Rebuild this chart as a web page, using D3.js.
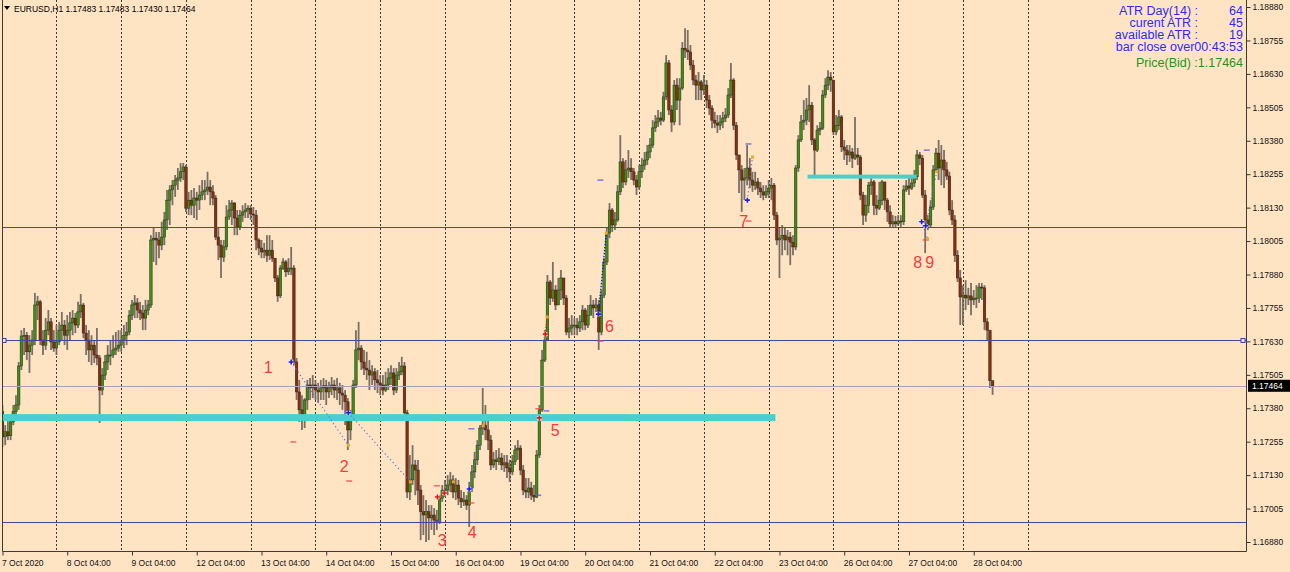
<!DOCTYPE html>
<html><head><meta charset="utf-8">
<script src="https://cdn.jsdelivr.net/npm/d3@7"></script>
<style>body{margin:0;background:#FFE4C4;}svg{display:block}</style>
</head><body><svg id="c" width="1290" height="572"></svg>
<script>
// ---------- DATA (EURUSD H1, 7 Oct 04:00 .. 28 Oct 11:00) ----------
const symbol = "EURUSD,H1";
const lastOHLC = [1.17483, 1.17483, 1.17430, 1.17464];
const firstOpen = 1.17367;
const closes = [
1.17273,1.17292,1.17277,1.17329,1.17367,1.17392,1.17538,1.17650,1.17653,1.17591,1.17616,1.17635,1.17766,1.17778,1.17635,1.17616,1.17672,1.17703,1.17628,1.17605,
1.17628,1.17672,1.17691,1.17653,1.17672,1.17699,1.17717,1.17691,1.17740,1.17766,1.17661,1.17635,1.17598,1.17616,1.17579,1.17568,1.17448,1.17504,1.17553,1.17579,1.17579,1.17598,1.17605,1.17616,
1.17635,1.17653,1.17665,1.17728,1.17766,1.17774,1.17747,1.17736,1.17717,1.17747,1.17766,1.18009,1.18016,1.18009,1.17990,1.18020,1.18084,1.18158,1.18196,1.18214,1.18233,1.18241,1.18264,1.18282,
1.18128,1.18158,1.18139,1.18166,1.18158,1.18177,1.18189,1.18196,1.18207,1.18189,1.18166,1.18020,1.17990,1.17945,1.17983,1.18095,1.18121,1.18147,1.18091,1.18058,1.18102,1.18114,1.18121,1.18128,
1.18106,1.18102,1.18009,1.17979,1.17964,1.17971,1.17952,1.17971,1.17941,1.17867,1.17800,1.17904,1.17927,1.17890,1.17904,1.17904,1.17553,1.17441,1.17374,1.17352,1.17411,1.17467,1.17456,1.17467,
1.17448,1.17441,1.17456,1.17464,1.17441,1.17456,1.17467,1.17448,1.17456,1.17437,1.17429,1.17404,1.17299,1.17344,1.17467,1.17598,1.17605,1.17553,1.17530,1.17523,1.17504,1.17516,1.17486,1.17475,
1.17467,1.17448,1.17467,1.17493,1.17512,1.17448,1.17504,1.17516,1.17538,1.17363,1.17067,1.17112,1.17168,1.17149,1.17074,1.16993,1.16981,1.16993,1.16970,1.16981,1.16962,1.16955,1.17044,1.17074,
1.17074,1.17093,1.17112,1.17067,1.17093,1.17044,1.17030,1.17037,1.17018,1.17082,1.17142,1.17187,1.17242,1.17306,1.17317,1.17299,1.17261,1.17168,1.17187,1.17180,1.17194,1.17168,1.17176,1.17157,
1.17142,1.17180,1.17224,1.17231,1.17149,1.17074,1.17067,1.17082,1.17055,1.17048,1.17205,1.17374,1.17560,1.17635,1.17852,1.17792,1.17822,1.17766,1.17822,1.17867,1.17792,1.17665,1.17680,1.17691,
1.17691,1.17680,1.17703,1.17747,1.17691,1.17728,1.17766,1.17755,1.17766,1.17665,1.17803,1.17927,1.18035,1.18121,1.18065,1.18084,1.18189,1.18301,1.18226,1.18271,1.18278,1.18264,1.18233,1.18207,
1.18264,1.18289,1.18308,1.18338,1.18364,1.18428,1.18450,1.18465,1.18457,1.18544,1.18671,1.18495,1.18450,1.18588,1.18532,1.18577,1.18726,1.18719,1.18712,1.18663,1.18607,1.18588,1.18600,1.18570,
1.18588,1.18532,1.18502,1.18457,1.18446,1.18438,1.18450,1.18465,1.18476,1.18551,1.18607,1.18438,1.18327,1.18271,1.18233,1.18241,1.18278,1.18233,1.18214,1.18226,1.18203,1.18189,1.18177,1.18189,
1.18203,1.18214,1.18102,1.18009,1.18016,1.18027,1.18009,1.18020,1.18001,1.17983,1.18278,1.18383,1.18450,1.18457,1.18495,1.18513,1.18383,1.18345,1.18420,1.18427,1.18551,1.18588,1.18618,1.18607,
1.18413,1.18438,1.18469,1.18357,1.18345,1.18327,1.18338,1.18315,1.18327,1.18319,1.18177,1.18102,1.18139,1.18214,1.18226,1.18139,1.18128,1.18158,1.18226,1.18158,1.18114,1.18069,1.18077,1.18069,
1.18080,1.18077,1.18196,1.18211,1.18203,1.18222,1.18245,1.18327,1.18315,1.18177,1.18084,1.18065,1.18132,1.18271,1.18334,1.18278,1.18308,1.18271,1.18248,1.18121,1.18084,1.17952,1.17867,1.17796,
1.17803,1.17792,1.17800,1.17785,1.17792,1.17792,1.17833,1.17830,1.17703,1.17672,1.17483,1.17464];
const highs = [
1.17392,1.17317,1.17336,1.17344,1.17392,1.17429,1.17553,1.17672,1.17680,1.17665,1.17653,1.17672,1.17811,1.17800,1.17785,1.17672,1.17717,1.17747,1.17717,1.17672,
1.17691,1.17703,1.17740,1.17710,1.17728,1.17740,1.17747,1.17736,1.17778,1.17807,1.17774,1.17691,1.17672,1.17653,1.17635,1.17680,1.17579,1.17530,1.17579,1.17616,1.17635,1.17653,1.17665,1.17672,
1.17672,1.17691,1.17703,1.17747,1.17785,1.17803,1.17792,1.17778,1.17766,1.17785,1.17785,1.18027,1.18054,1.18039,1.18039,1.18077,1.18114,1.18196,1.18214,1.18233,1.18252,1.18278,1.18297,1.18297,
1.18289,1.18189,1.18196,1.18203,1.18189,1.18214,1.18233,1.18233,1.18264,1.18233,1.18214,1.18177,1.18054,1.18009,1.18009,1.18139,1.18158,1.18158,1.18151,1.18121,1.18121,1.18139,1.18147,1.18139,
1.18139,1.18132,1.18121,1.18016,1.18009,1.17998,1.18027,1.18027,1.18009,1.17941,1.17878,1.17915,1.17941,1.17934,1.17941,1.17983,1.17915,1.17568,1.17486,1.17429,1.17418,1.17486,1.17493,1.17504,
1.17486,1.17475,1.17486,1.17493,1.17486,1.17479,1.17497,1.17486,1.17493,1.17475,1.17467,1.17448,1.17418,1.17374,1.17486,1.17672,1.17703,1.17616,1.17598,1.17591,1.17560,1.17541,1.17530,1.17523,
1.17504,1.17504,1.17516,1.17530,1.17541,1.17530,1.17530,1.17553,1.17572,1.17553,1.17374,1.17205,1.17242,1.17187,1.17187,1.17093,1.17055,1.17037,1.17018,1.17018,1.17007,1.17000,1.17055,1.17093,
1.17112,1.17130,1.17142,1.17130,1.17119,1.17112,1.17074,1.17067,1.17055,1.17105,1.17168,1.17217,1.17261,1.17317,1.17456,1.17392,1.17336,1.17280,1.17217,1.17224,1.17231,1.17213,1.17205,1.17205,
1.17187,1.17205,1.17242,1.17261,1.17242,1.17168,1.17119,1.17119,1.17105,1.17093,1.17224,1.17392,1.17598,1.17672,1.17878,1.17859,1.17927,1.17840,1.17867,1.17897,1.17867,1.17803,1.17717,1.17728,
1.17717,1.17717,1.17728,1.17766,1.17755,1.17766,1.17803,1.17785,1.17792,1.17785,1.17822,1.17941,1.18054,1.18147,1.18128,1.18114,1.18214,1.18401,1.18315,1.18308,1.18345,1.18315,1.18278,1.18252,
1.18289,1.18315,1.18338,1.18364,1.18390,1.18457,1.18476,1.18495,1.18488,1.18563,1.18700,1.18682,1.18513,1.18607,1.18614,1.18614,1.18749,1.18801,1.18794,1.18738,1.18682,1.18626,1.18637,1.18607,
1.18626,1.18607,1.18551,1.18513,1.18488,1.18476,1.18476,1.18488,1.18502,1.18577,1.18671,1.18614,1.18450,1.18327,1.18289,1.18278,1.18364,1.18315,1.18264,1.18264,1.18241,1.18226,1.18214,1.18214,
1.18233,1.18241,1.18222,1.18114,1.18054,1.18065,1.18054,1.18046,1.18039,1.18027,1.18289,1.18401,1.18476,1.18532,1.18540,1.18588,1.18525,1.18390,1.18438,1.18450,1.18570,1.18614,1.18644,1.18637,
1.18551,1.18476,1.18495,1.18476,1.18383,1.18364,1.18364,1.18353,1.18469,1.18353,1.18327,1.18189,1.18177,1.18226,1.18241,1.18233,1.18177,1.18226,1.18233,1.18222,1.18166,1.18139,1.18102,1.18099,
1.18102,1.18102,1.18214,1.18233,1.18241,1.18248,1.18271,1.18345,1.18338,1.18327,1.18196,1.18102,1.18158,1.18289,1.18353,1.18383,1.18364,1.18345,1.18301,1.18264,1.18158,1.18102,1.17971,1.17897,
1.17840,1.17859,1.17830,1.17848,1.17822,1.17840,1.17848,1.17848,1.17840,1.17717,1.17653,1.17483];
const lows = [
1.17235,1.17242,1.17261,1.17261,1.17317,1.17355,1.17374,1.17523,1.17579,1.17560,1.17512,1.17579,1.17616,1.17710,1.17616,1.17579,1.17598,1.17653,1.17598,1.17591,
1.17579,1.17616,1.17635,1.17616,1.17598,1.17635,1.17653,1.17661,1.17680,1.17717,1.17642,1.17579,1.17553,1.17541,1.17549,1.17541,1.17325,1.17429,1.17486,1.17523,1.17541,1.17568,1.17579,1.17591,
1.17591,1.17605,1.17616,1.17653,1.17710,1.17717,1.17717,1.17710,1.17672,1.17672,1.17728,1.17755,1.17927,1.17915,1.17941,1.17971,1.17990,1.18046,1.18065,1.18139,1.18170,1.18196,1.18226,1.18233,
1.18114,1.18102,1.18102,1.18091,1.18084,1.18121,1.18158,1.18158,1.18177,1.18139,1.18139,1.18009,1.17934,1.17867,1.17927,1.17971,1.18084,1.18065,1.18027,1.18027,1.18046,1.18077,1.18091,1.18091,
1.18084,1.18065,1.17971,1.17952,1.17941,1.17941,1.17927,1.17934,1.17927,1.17852,1.17778,1.17792,1.17897,1.17871,1.17878,1.17878,1.17541,1.17411,1.17329,1.17299,1.17306,1.17374,1.17411,1.17418,
1.17411,1.17400,1.17411,1.17411,1.17392,1.17418,1.17429,1.17418,1.17411,1.17392,1.17374,1.17317,1.17224,1.17261,1.17336,1.17456,1.17560,1.17523,1.17504,1.17486,1.17448,1.17467,1.17448,1.17437,
1.17429,1.17429,1.17441,1.17448,1.17467,1.17429,1.17437,1.17486,1.17504,1.17344,1.17044,1.17037,1.17093,1.17055,1.17018,1.16887,1.16906,1.16880,1.16887,1.16925,1.16906,1.16925,1.16947,1.17030,
1.17048,1.17055,1.17067,1.17044,1.17037,1.17018,1.17007,1.17015,1.17000,1.16936,1.17067,1.17119,1.17168,1.17224,1.17280,1.17261,1.17224,1.17149,1.17157,1.17149,1.17168,1.17149,1.17142,1.17119,
1.17105,1.17130,1.17168,1.17187,1.17130,1.17055,1.17044,1.17044,1.17037,1.17030,1.17044,1.17194,1.17367,1.17553,1.17635,1.17766,1.17778,1.17747,1.17766,1.17785,1.17766,1.17653,1.17642,1.17653,
1.17653,1.17653,1.17665,1.17672,1.17672,1.17680,1.17740,1.17717,1.17740,1.17598,1.17653,1.17792,1.17915,1.18016,1.18039,1.18046,1.18077,1.18177,1.18203,1.18214,1.18241,1.18233,1.18214,1.18177,
1.18196,1.18241,1.18271,1.18289,1.18315,1.18353,1.18413,1.18431,1.18438,1.18450,1.18532,1.18476,1.18413,1.18438,1.18495,1.18438,1.18570,1.18689,1.18682,1.18644,1.18588,1.18532,1.18532,1.18532,
1.18551,1.18502,1.18476,1.18427,1.18427,1.18409,1.18420,1.18427,1.18450,1.18465,1.18540,1.18420,1.18308,1.18185,1.18114,1.18158,1.18214,1.18203,1.18189,1.18196,1.18177,1.18166,1.18158,1.18166,
1.18166,1.18158,1.18084,1.17990,1.17867,1.17952,1.17971,1.17952,1.17915,1.17952,1.17971,1.18264,1.18375,1.18420,1.18438,1.18450,1.18364,1.18241,1.18338,1.18401,1.18420,1.18540,1.18570,1.18563,
1.18401,1.18401,1.18420,1.18338,1.18308,1.18289,1.18301,1.18278,1.18308,1.18289,1.18158,1.18065,1.18077,1.18110,1.18177,1.18102,1.18102,1.18121,1.18139,1.18121,1.18077,1.18054,1.18058,1.18054,
1.18062,1.18058,1.18065,1.18189,1.18177,1.18196,1.18207,1.18233,1.18289,1.18166,1.17960,1.18046,1.18054,1.18121,1.18264,1.18233,1.18214,1.18203,1.18233,1.18102,1.18065,1.17927,1.17852,1.17691,
1.17691,1.17747,1.17766,1.17728,1.17766,1.17755,1.17774,1.17785,1.17672,1.17635,1.17456,1.17430];

const priceTicks = [1.18880,1.18755,1.18630,1.18505,1.18380,1.18255,1.18130,1.18005,1.17880,1.17755,1.17630,1.17505,1.17380,1.17255,1.17130,1.17005,1.16880];
const dateLabels = ["7 Oct 2020","8 Oct 04:00","9 Oct 04:00","12 Oct 04:00","13 Oct 04:00","14 Oct 04:00","15 Oct 04:00","16 Oct 04:00","19 Oct 04:00","20 Oct 04:00","21 Oct 04:00","22 Oct 04:00","23 Oct 04:00","26 Oct 04:00","27 Oct 04:00","28 Oct 04:00"];
const dateLabelBars = [0,24,48,72,96,120,144,168,192,216,240,264,288,312,336,360];
const daySeparatorBars = [20,44,68,92,116,140,164,188,212,236,260,284,308,332,356,380];
const levelLines = [1.18058, 1.17635, 1.16955];
const bidPrice = 1.17464;
const zones = [{from:-1, to:286.5, price:1.17345, kind:"wide"}, {from:298.4, to:338.8, price:1.18246, kind:"narrow"}];
const waveLabels = [{t:"1",i:98.5,p:1.17534},{t:"2",i:126.7,p:1.17165},{t:"3",i:163,p:1.16887},{t:"4",i:174.1,p:1.16918},{t:"5",i:204.9,p:1.17299},{t:"6",i:225,p:1.17688},{t:"7",i:274.7,p:1.18080},{t:"8",i:339.2,p:1.17927},{t:"9",i:343.7,p:1.17927}];
const blueCrosses = [[107,1.17553],[128.2,1.17363],[173,1.17078],[220.9,1.17732],[276.1,1.18158],[340.7,1.18077],[342.2,1.18062]];
const redCrosses = [[161.2,1.17048],[163.8,1.17063],[199,1.17344],[201.2,1.17657]];
const orangeDots = [[128.2,1.17242],[151.2,1.17105],[167.1,1.17105],[178.2,1.17314],[199.7,1.17340],[201.9,1.17721],[223.8,1.18035],[278,1.18319],[342.9,1.18013],[346.3,1.18264]];
const blueLinks = [[107,1.17553,128.2,1.17242],[128.2,1.17363,151.2,1.17105],[173,1.17078,178.2,1.17314],[276.1,1.18158,278,1.18319],[342.2,1.18062,346.3,1.18264],[340.7,1.18077,342.9,1.18013]];
const navyLinks = [[220.9,1.17732,223.8,1.18035]];
const redLinks = [[201.2,1.17657,201.9,1.17721]];
const redDashes = [[107.8,1.17254],[128.5,1.17108],[173.8,1.17026],[198.6,1.17378],[221.6,1.17631],[276.5,1.18080],[342.2,1.18009],[161,1.17090]];
const blueDashes = [[173.8,1.17303],[201.6,1.17370],[198.6,1.17055],[161.5,1.16958],[221.6,1.18233],[276.5,1.18368],[342.6,1.18345]];
const infoRows = [["ATR Day(14) :","64"],["curent ATR :","45"],["available ATR :","19"]];
const barCloseText = "bar close over00:43:53";
const bidText = "Price(Bid) :1.17464";

// ---------- DRAW ----------
const svg = d3.select("#c");
const W = 1290, H = 572, L = 2, R = 1246, B = 551;
const x = d3.scaleLinear().domain([0, 367]).range([2.5, 992.6]);
const y = d3.scaleLinear().domain([1.16880, 1.18880]).range([542, 7]);
const FONT = "'Liberation Sans', Arial, sans-serif";

svg.append("rect").attr("width", W).attr("height", H).attr("fill", "#FFE4C4");
svg.append("defs").append("clipPath").attr("id","clip").append("rect").attr("x",L).attr("y",0).attr("width",R-L).attr("height",B);
const plot = svg.append("g").attr("clip-path","url(#clip)");

// day separators (dotted grid)
plot.append("g").selectAll("line").data(daySeparatorBars).join("line")
  .attr("x1", d=>Math.round(x(d))+0.5).attr("x2", d=>Math.round(x(d))+0.5).attr("y1",0).attr("y2",B)
  .attr("stroke","#3c3834").attr("stroke-width",1).attr("stroke-dasharray","2,2");

// candles
const bars = closes.map((c,i)=>({i, o: i===0 ? firstOpen : closes[i-1], c, h: highs[i], l: lows[i]}));
const cg = plot.append("g");
cg.append("g").selectAll("line").data(bars).join("line")
  .attr("x1", d=>x(d.i)).attr("x2", d=>x(d.i))
  .attr("y1", d=>y(Math.max(d.h,d.o,d.c))).attr("y2", d=>y(Math.min(d.l,d.o,d.c)))
  .attr("stroke","#6a6259").attr("stroke-opacity",0.9).attr("stroke-width",1.8);
cg.append("g").selectAll("rect").data(bars).join("rect")
  .attr("x", d=>x(d.i)-1.3).attr("width",2.6)
  .attr("y", d=>y(Math.max(d.o,d.c))).attr("height", d=>Math.max(1, Math.abs(y(d.o)-y(d.c))))
  .attr("fill", d=> d.c>=d.o ? "#3f8e14" : "#882d0e")
  .attr("stroke", "#2a261e").attr("stroke-width",0.45);

// level lines
plot.append("g").selectAll("line").data(levelLines).join("line")
  .attr("x1",L).attr("x2",R).attr("y1",d=>Math.round(y(d))+0.5).attr("y2",d=>Math.round(y(d))+0.5)
  .attr("stroke","#4646a0").attr("stroke-width",1);
plot.append("line").attr("x1",L).attr("x2",R).attr("y1",Math.round(y(bidPrice))+0.5).attr("y2",Math.round(y(bidPrice))+0.5)
  .attr("stroke","#a3a3ab").attr("stroke-width",1);
// small anchors on middle level line
[4,1243].forEach(px=>{
  plot.append("rect").attr("x",px-2).attr("y",Math.round(y(levelLines[1]))-1.5).attr("width",4).attr("height",4)
   .attr("fill","#FFE4C4").attr("stroke","#3b3bbb").attr("stroke-width",1);
});

// zones
plot.append("g").selectAll("rect").data(zones).join("rect")
  .attr("x", d=>Math.max(L, x(d.from))).attr("width", d=>x(d.to)-Math.max(L,x(d.from)))
  .attr("y", d=>y(d.price) - (d.kind==="wide"?3.5:2)).attr("height", d=>d.kind==="wide"?7:4)
  .attr("fill","#48D1CC");

// links
function links(data, color, dash, w){
  plot.append("g").selectAll("line").data(data).join("line")
   .attr("x1",d=>x(d[0])).attr("y1",d=>y(d[1])).attr("x2",d=>x(d[2])).attr("y2",d=>y(d[3]))
   .attr("stroke",color).attr("stroke-width",w).attr("stroke-dasharray",dash);
}
links(blueLinks,"#6a6ae8","1.3,2.6",1.1);
links(navyLinks,"#1818c8","1.5,1.5",1.4);
links(redLinks,"#e01818","1.5,1.5",1.4);

// dashes
function dashes(data,color){
  plot.append("g").selectAll("line").data(data).join("line")
   .attr("x1",d=>x(d[0])-3).attr("x2",d=>x(d[0])+3).attr("y1",d=>y(d[1])).attr("y2",d=>y(d[1]))
   .attr("stroke",color).attr("stroke-width",1.2);
}
dashes(redDashes,"#f04848");
dashes(blueDashes,"#5b5bf0");

// markers
plot.append("g").selectAll("rect").data(orangeDots).join("rect")
  .attr("x",d=>x(d[0])-1.5).attr("y",d=>y(d[1])-1.5).attr("width",3).attr("height",3).attr("fill","#e8a830");
function crosses(data,color){
  const g = plot.append("g").selectAll("g").data(data).join("g").attr("transform",d=>`translate(${x(d[0])},${y(d[1])})`);
  g.append("circle").attr("r",2.6).attr("fill","#ffffff").attr("opacity",0.7);
  g.append("path").attr("d","M-2.5,0H2.5M0,-2.5V2.5").attr("stroke",color).attr("stroke-width",1.6);
}
crosses(blueCrosses,"#1a1aff");
crosses(redCrosses,"#ee1111");

// wave labels
plot.append("g").selectAll("text").data(waveLabels).join("text")
  .attr("x",d=>x(d.i)).attr("y",d=>y(d.p)).attr("dy","0.36em").attr("text-anchor","middle")
  .attr("font-family",FONT).attr("font-size",16).attr("fill","#f23b3b").text(d=>d.t);

// frame
svg.append("path").attr("d",`M${L+0.5},0V${B+0.5}H${R+0.5}V0`).attr("fill","none").attr("stroke","#3e3a36").attr("stroke-width",1);

// right price axis
const yAxis = d3.axisRight(y).tickValues(priceTicks).tickSize(4).tickPadding(2).tickFormat(d3.format(".5f"));
const ya = svg.append("g").attr("transform",`translate(${R+0.5},0)`).call(yAxis);
ya.select(".domain").remove();
ya.selectAll("line").attr("stroke","#333");
ya.selectAll("text").attr("font-family",FONT).attr("font-size",8.5).attr("fill","#111");

// bid box
const by = y(bidPrice);
svg.append("rect").attr("x",R+2).attr("y",by-6).attr("width",42).attr("height",12).attr("fill","#000");
svg.append("text").attr("x",R+6).attr("y",by).attr("dy","0.35em").attr("font-family",FONT).attr("font-size",8.5)
  .attr("fill","#fff").text(d3.format(".5f")(bidPrice));

// bottom time axis
const xAxis = d3.axisBottom(x).tickValues(dateLabelBars).tickSize(4).tickFormat((d,i)=>dateLabels[i]);
const xa = svg.append("g").attr("transform",`translate(0,${B+0.5})`).call(xAxis);
xa.select(".domain").remove();
xa.selectAll("line").attr("stroke","#333");
xa.selectAll("text").attr("font-family",FONT).attr("font-size",8.5).attr("fill","#111")
  .attr("text-anchor","start").attr("dx","-1").attr("y",8);

// top-left header
svg.append("path").attr("d","M4,6H10L7,10Z").attr("fill","#000");
svg.append("text").attr("x",14).attr("y",12).attr("font-family",FONT).attr("font-size",8.5).attr("fill","#000")
  .text(symbol + "  " + lastOHLC.map(d3.format(".5f")).join(" "));

// info panel
const info = svg.append("g").attr("font-family",FONT).attr("font-size",12.5);
infoRows.forEach((r,k)=>{
  info.append("text").attr("x",1198).attr("y",15+12*k).attr("text-anchor","end").attr("fill","#2b2bff").text(r[0]);
  info.append("text").attr("x",1243).attr("y",15+12*k).attr("text-anchor","end").attr("fill","#2b2bff").text(r[1]);
});
info.append("text").attr("x",1243).attr("y",51).attr("text-anchor","end").attr("fill","#2b2bff").text(barCloseText);
info.append("text").attr("x",1243).attr("y",66.5).attr("text-anchor","end").attr("fill","#1d951d").text(bidText);
</script></body></html>
